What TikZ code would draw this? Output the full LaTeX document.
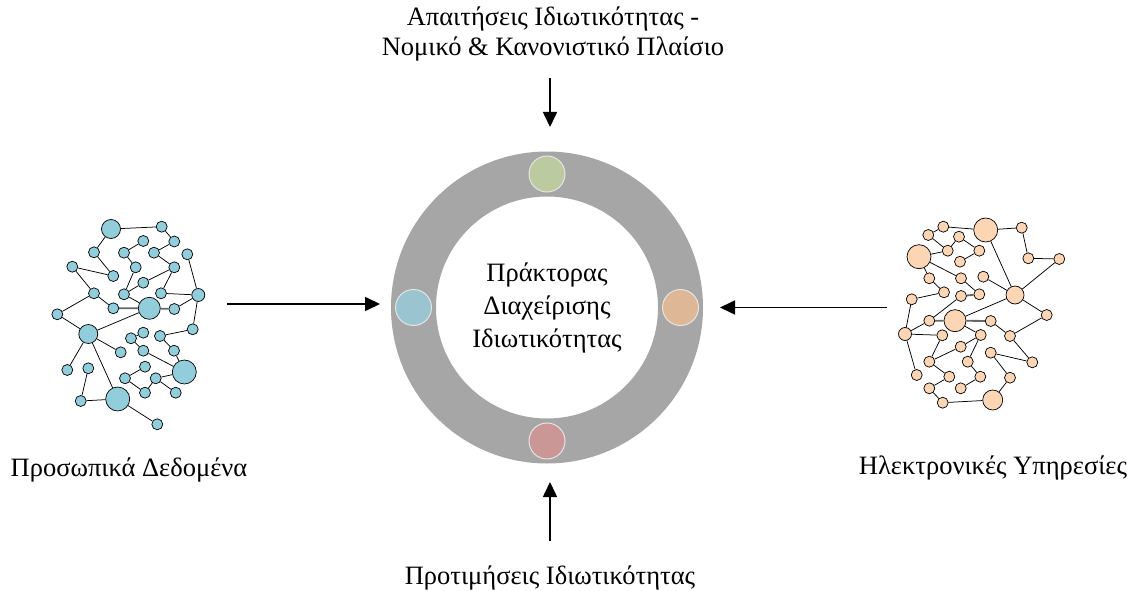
\documentclass[tikz,border=0pt]{standalone}
\usepackage{fontspec}
\setmainfont{Liberation Serif}
\usepackage{xcolor}
\usetikzlibrary{arrows.meta}
\definecolor{netblue}{RGB}{146,205,220}
\definecolor{netpeach}{RGB}{252,213,180}
\definecolor{ringgray}{RGB}{166,166,166}
\definecolor{dotgreen}{RGB}{188,202,160}
\definecolor{dotblue}{RGB}{154,196,207}
\definecolor{dotpeach}{RGB}{222,184,150}
\definecolor{dotred}{RGB}{202,150,150}
\tikzset{blue node/.style={circle,fill=netblue,draw,line width=0.7pt,minimum size=11pt,inner sep=0pt},}
\tikzset{peach node/.style={circle,fill=netpeach,draw,line width=0.7pt,minimum size=11pt,inner sep=0pt},}
\tikzset{link/.style={line width=0.75pt},}
\tikzset{thick link/.style={line width=1.8pt,draw=gray!80!black},}
\tikzset{ring node/.style={circle,draw=ringgray,line width=45pt,minimum size=267pt,inner sep=0pt,outer sep=0pt,align=center,font=\fontsize{26.5}{33}\selectfont},}
\tikzset{dot node/.style={circle,draw=white!80!gray,line width=1pt,minimum size=36pt,inner sep=0pt},}
\tikzset{caption text/.style={align=center,font=\fontsize{26.5}{30}\selectfont},}
\tikzset{flow/.style={line width=1.6pt,-{Triangle[length=15pt,width=14pt]}},}

\begin{document}
\begin{tikzpicture}[x=1pt,y=-1pt]
       \useasboundingbox (0,0) rectangle (1135,591);

       % agent ring
       \node[ring node] (agent) at (547,307.5) {Πράκτορας\\Διαχείρισης\\Ιδιωτικότητας};
       \node[dot node,fill=dotgreen] (top dot) at (agent.north) {};
       \node[dot node,fill=dotblue] (left dot) at (agent.west) {};
       \node[dot node,fill=dotpeach] (right dot) at (agent.east) {};
       \node[dot node,fill=dotred] (bottom dot) at (agent.south) {};

       % captions
       \node[caption text] (laws) at (553,34) {Απαιτήσεις Ιδιωτικότητας -\\Νομικό \& Κανονιστικό Πλαίσιο};
       \node[caption text] (prefs) at (550,578) {Προτιμήσεις Ιδιωτικότητας};
       \node[caption text] (data) at (129,470) {Προσωπικά Δεδομένα};
       \node[caption text] (services) at (993,468) {Ηλεκτρονικές Υπηρεσίες};

       \coordinate (laws out) at (550,78);
       \coordinate (laws in) at (550,127);
       \coordinate (prefs out) at (550,541);
       \coordinate (prefs in) at (550,482);
       \coordinate (data out) at (227,304);
       \coordinate (data in) at (380,304);
       \coordinate (services out) at (887,307.5);
       \coordinate (services in) at (720,307.5);
       \draw[flow] (laws out) -- (laws in);
       \draw[flow] (prefs out) -- (prefs in);
       \draw[flow] (data out) -- (data in);
       \draw[flow] (services out) -- (services in);

       % personal data network
       \node[blue node,minimum size=19pt] (l1) at (111,229) {};
       \node[blue node] (l2) at (161.7,226.7) {};
       \node[blue node] (l3) at (174.3,241.5) {};
       \node[blue node] (l4) at (143.3,241) {};
       \node[blue node] (l5) at (124,252.7) {};
       \node[blue node] (l6) at (154,252.7) {};
       \node[blue node] (l7) at (94,252.3) {};
       \node[blue node] (l8) at (187.3,254.3) {};
       \node[blue node] (l9) at (72.3,266.7) {};
       \node[blue node] (l10) at (113.3,276) {};
       \node[blue node] (l11) at (135.7,267.3) {};
       \node[blue node] (l12) at (174.3,267.3) {};
       \node[blue node] (l13) at (143.3,282.7) {};
       \node[blue node] (l14) at (94,293.3) {};
       \node[blue node] (l15) at (124,294.3) {};
       \node[blue node] (l16) at (161,293.3) {};
       \node[blue node,minimum size=13pt] (l17) at (198.3,295) {};
       \node[blue node] (l18) at (57.3,314.3) {};
       \node[blue node] (l19) at (113.3,308.3) {};
       \node[blue node,minimum size=22pt] (l20) at (149.3,308.3) {};
       \node[blue node] (l21) at (174.3,309) {};
       \node[blue node,minimum size=19pt] (l22) at (88.3,334) {};
       \node[blue node] (l23) at (143.3,332.7) {};
       \node[blue node] (l24) at (192.7,329.3) {};
       \node[blue node] (l25) at (131,338.3) {};
       \node[blue node] (l26) at (160,336) {};
       \node[blue node] (l27) at (120.7,352.3) {};
       \node[blue node] (l28) at (143.3,350.7) {};
       \node[blue node] (l29) at (174,350.7) {};
       \node[blue node] (l30) at (67.3,370) {};
       \node[blue node] (l31) at (88.3,368.3) {};
       \node[blue node] (l32) at (145,366.7) {};
       \node[blue node,minimum size=24pt] (l33) at (184.3,372) {};
       \node[blue node] (l34) at (125,378.3) {};
       \node[blue node] (l35) at (155.7,378.3) {};
       \node[blue node] (l36) at (145,392.7) {};
       \node[blue node] (l37) at (175.7,392.7) {};
       \node[blue node,minimum size=24pt] (l38) at (117.7,399) {};
       \node[blue node] (l39) at (80.7,401) {};
       \node[blue node] (l40) at (157.3,424.3) {};

       \draw[thick link] (l19) -- (l20) -- (l21);
       \draw[link]
       (l1) -- (l2) -- (l3) -- (l6) -- (l12) -- (l16) -- (l17) -- (l8)
       (l1) -- (l7) -- (l10) -- (l9) -- (l14) -- (l19)
       (l4) -- (l5) -- (l11) -- (l15) -- (l20)
       (l15) -- (l13) -- (l12)
       (l14) -- (l18) -- (l22) -- (l20)
       (l21) -- (l17) -- (l24) -- (l26) -- (l29) -- (l33)
       (l22) -- (l27)
       (l22) -- (l30)
       (l22) -- (l38) -- (l40)
       (l31) -- (l39) -- (l38)
       (l23) -- (l25) -- (l28) -- (l33) -- (l35) -- (l37)
       (l32) -- (l34) -- (l36) -- (l35);

       % services network
       \node[peach node] (r1) at (943.3,226.7) {};
       \node[peach node,minimum size=24pt] (r2) at (985.7,230) {};
       \node[peach node] (r3) at (1021.7,227.7) {};
       \node[peach node] (r4) at (928.3,235) {};
       \node[peach node] (r5) at (959,236.7) {};
       \node[peach node,minimum size=24pt] (r6) at (919,256.7) {};
       \node[peach node] (r7) at (947.7,250.7) {};
       \node[peach node] (r8) at (979.3,250.7) {};
       \node[peach node] (r9) at (1028.3,258.3) {};
       \node[peach node] (r10) at (1059.3,259) {};
       \node[peach node] (r11) at (960,261.7) {};
       \node[peach node] (r12) at (929.3,278.3) {};
       \node[peach node] (r13) at (961,278.3) {};
       \node[peach node] (r14) at (983.3,276.7) {};
       \node[peach node,minimum size=18pt] (r15) at (1015,295) {};
       \node[peach node] (r16) at (944,292.3) {};
       \node[peach node] (r17) at (961,296) {};
       \node[peach node] (r18) at (979.3,294.3) {};
       \node[peach node] (r19) at (911.7,299.3) {};
       \node[peach node] (r20) at (1046.7,315) {};
       \node[peach node,minimum size=22pt] (r21) at (955,320.7) {};
       \node[peach node] (r22) at (929.3,320.7) {};
       \node[peach node] (r23) at (990.7,321) {};
       \node[peach node,minimum size=13pt] (r24) at (905,334) {};
       \node[peach node] (r25) at (942.3,335.3) {};
       \node[peach node] (r26) at (980.7,335) {};
       \node[peach node] (r27) at (1010,336) {};
       \node[peach node] (r28) at (960.7,346.7) {};
       \node[peach node] (r29) at (990.7,352.7) {};
       \node[peach node] (r30) at (929.3,361.7) {};
       \node[peach node] (r31) at (967.7,361.7) {};
       \node[peach node] (r32) at (1032.3,362.3) {};
       \node[peach node] (r33) at (916.7,375) {};
       \node[peach node] (r34) at (949.3,376.7) {};
       \node[peach node] (r35) at (980.3,376.7) {};
       \node[peach node] (r36) at (1010,377.7) {};
       \node[peach node] (r37) at (929.3,388.3) {};
       \node[peach node] (r38) at (960.7,388.3) {};
       \node[peach node] (r39) at (942.7,402.7) {};
       \node[peach node,minimum size=20pt] (r40) at (992.7,400) {};

       \draw[thick link] (r22) -- (r21) -- (r23);
       \draw[thick link] (r17) -- (r18);
       \draw[link]
       (r4) -- (r1) -- (r2) -- (r3) -- (r9) -- (r10) -- (r15) -- (r2)
       (r4) -- (r7) -- (r5) -- (r8) -- (r11)
       (r7) -- (r6) -- (r12) -- (r16) -- (r19) -- (r24)
       (r6) -- (r13) -- (r18)
       (r14) -- (r15) -- (r21) -- (r26) -- (r31) -- (r35) -- (r38)
       (r15) -- (r20) -- (r27) -- (r23)
       (r17) -- (r22) -- (r24) -- (r25) -- (r30) -- (r28) -- (r26)
       (r24) -- (r33)
       (r30) -- (r34) -- (r37) -- (r39) -- (r40) -- (r36) -- (r29) -- (r32) -- (r27);
\end{tikzpicture}
\end{document}
